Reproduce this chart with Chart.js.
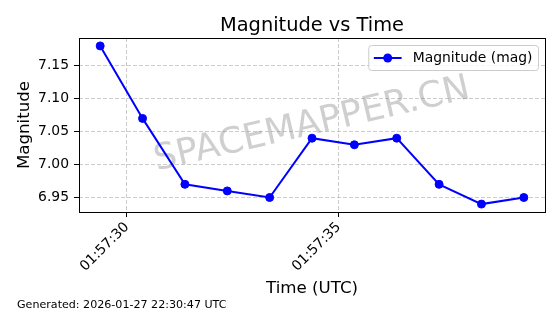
<!DOCTYPE html>
<html>
<head>
<meta charset="utf-8">
<script src="https://cdn.jsdelivr.net/npm/chart.js@4/dist/chart.umd.min.js"></script>
<style>
  html, body { margin: 0; padding: 0; background: #fff; }
  canvas { display: block; }
</style>
</head>
<body>
<canvas id="magChart" width="560" height="314"></canvas>
<script>
// seconds past 01:57:00 UTC
const timeSec = [29.37, 30.37, 31.37, 32.37, 33.37, 34.37, 35.37, 36.37, 37.37, 38.37, 39.37];
const magnitudes = [7.18, 7.07, 6.97, 6.96, 6.95, 7.04, 7.03, 7.04, 6.97, 6.94, 6.95];
const xTickValues = [30, 35];
const xTickLabels = ['01:57:30', '01:57:35'];
const yTickValues = [6.95, 7.00, 7.05, 7.10, 7.15];

const FONT = "'DejaVu Sans', sans-serif";
Chart.defaults.font.family = FONT;
Chart.defaults.color = '#000';

const extras = {
    id: 'extras',
    beforeDatasetsDraw(chart) {
        const ctx = chart.ctx;
        const a = chart.chartArea;
        // watermark
        ctx.save();
        ctx.translate((a.left + a.right) / 2, (a.top + a.bottom) / 2);
        ctx.rotate(-13 * Math.PI / 180);
        ctx.font = "36px " + FONT;
        ctx.fillStyle = 'rgba(128,128,128,0.38)';
        ctx.textAlign = 'center';
        ctx.textBaseline = 'middle';
        ctx.fillText('SPACEMAPPER.CN', 0, 0);
        ctx.restore();
    },
    afterDraw(chart) {
        const ctx = chart.ctx;
        const a = chart.chartArea;
        ctx.save();
        // frame
        ctx.strokeStyle = '#000';
        ctx.lineWidth = 1;
        ctx.strokeRect(Math.round(a.left) + 0.5, Math.round(a.top) + 0.5,
            Math.round(a.right) - Math.round(a.left), Math.round(a.bottom) - Math.round(a.top));

        // title
        ctx.font = "19.4px " + FONT;
        ctx.fillStyle = '#000';
        ctx.textAlign = 'center';
        ctx.textBaseline = 'alphabetic';
        ctx.fillText('Magnitude vs Time', (a.left + a.right) / 2, 31);

        // legend
        const fs = 13.9;
        ctx.font = fs + "px " + FONT;
        const label = 'Magnitude (mag)';
        const tw = ctx.measureText(label).width;
        const pad = 0.4 * fs, handle = 2 * fs, gap = 0.8 * fs;
        const bw = pad + handle + gap + tw + pad;
        const bh = 25;
        const bx = a.right - 7 - bw;
        const by = a.top + 7;
        ctx.beginPath();
        ctx.roundRect(bx + 0.5, by + 0.5, bw, bh, 3);
        ctx.fillStyle = 'rgba(255,255,255,0.8)';
        ctx.fill();
        ctx.strokeStyle = '#cccccc';
        ctx.stroke();
        const cy = by + bh / 2 + 0.5;
        ctx.strokeStyle = '#0000ff';
        ctx.lineWidth = 2;
        ctx.beginPath();
        ctx.moveTo(bx + pad, cy);
        ctx.lineTo(bx + pad + handle, cy);
        ctx.stroke();
        ctx.beginPath();
        ctx.arc(bx + pad + handle / 2, cy, 4.5, 0, Math.PI * 2);
        ctx.fillStyle = '#0000ff';
        ctx.fill();
        ctx.fillStyle = '#000';
        ctx.textAlign = 'left';
        ctx.textBaseline = 'middle';
        ctx.fillText(label, bx + pad + handle + gap, cy);

        // footer
        ctx.font = "11.1px " + FONT;
        ctx.textBaseline = 'alphabetic';
        ctx.fillText('Generated: 2026-01-27 22:30:47 UTC', 17, 308);
        ctx.restore();
    }
};

const ctx = document.getElementById('magChart').getContext('2d');

const magChart = new Chart(ctx, {
    type: 'line',
    data: {
        datasets: [{
            label: 'Magnitude (mag)',
            data: timeSec.map((t, i) => ({ x: t, y: magnitudes[i] })),
            borderColor: '#0000ff',
            backgroundColor: '#0000ff',
            borderWidth: 2,
            pointRadius: 4,
            pointBorderWidth: 1,
            pointBackgroundColor: '#0000ff',
            pointBorderColor: '#0000ff',
            tension: 0,
            fill: false,
        }]
    },
    options: {
        responsive: false,
        animation: false,
        events: [],
        layout: { padding: { top: 38, right: 15, left: 0, bottom: 0 } },
        plugins: {
            legend: { display: false },
            title: { display: false },
            tooltip: { enabled: false }
        },
        scales: {
            x: {
                type: 'linear',
                min: 28.87,
                max: 39.87,
                afterBuildTicks: axis => { axis.ticks = xTickValues.map(v => ({ value: v })); },
                afterFit: axis => { axis.height = 102; },
                ticks: {
                    autoSkip: false,
                    minRotation: 45,
                    maxRotation: 45,
                    padding: 2,
                    font: { size: 13.9 },
                    callback: v => xTickLabels[xTickValues.indexOf(v)]
                },
                grid: {
                    color: 'rgba(176,176,176,0.65)',
                    tickColor: '#000',
                    tickLength: 5,
                    tickWidth: 1,
                    tickBorderDash: []
                },
                border: { display: false, dash: [4, 2] },
                title: {
                    display: true,
                    text: 'Time (UTC)',
                    font: { size: 16.67 },
                    padding: { top: 0, bottom: 15 }
                }
            },
            y: {
                min: 6.928,
                max: 7.192,
                afterBuildTicks: axis => { axis.ticks = yTickValues.map(v => ({ value: v })); },
                afterFit: axis => { axis.width = 79; },
                ticks: {
                    padding: 5,
                    font: { size: 13.9 },
                    callback: v => v.toFixed(2)
                },
                grid: {
                    color: 'rgba(176,176,176,0.65)',
                    tickColor: '#000',
                    tickLength: 5,
                    tickWidth: 1,
                    tickBorderDash: []
                },
                border: { display: false, dash: [4, 2] },
                title: {
                    display: true,
                    text: 'Magnitude',
                    font: { size: 16.67 },
                    padding: { top: 15, bottom: 0 }
                }
            }
        }
    },
    plugins: [extras]
});
</script>
</body>
</html>
